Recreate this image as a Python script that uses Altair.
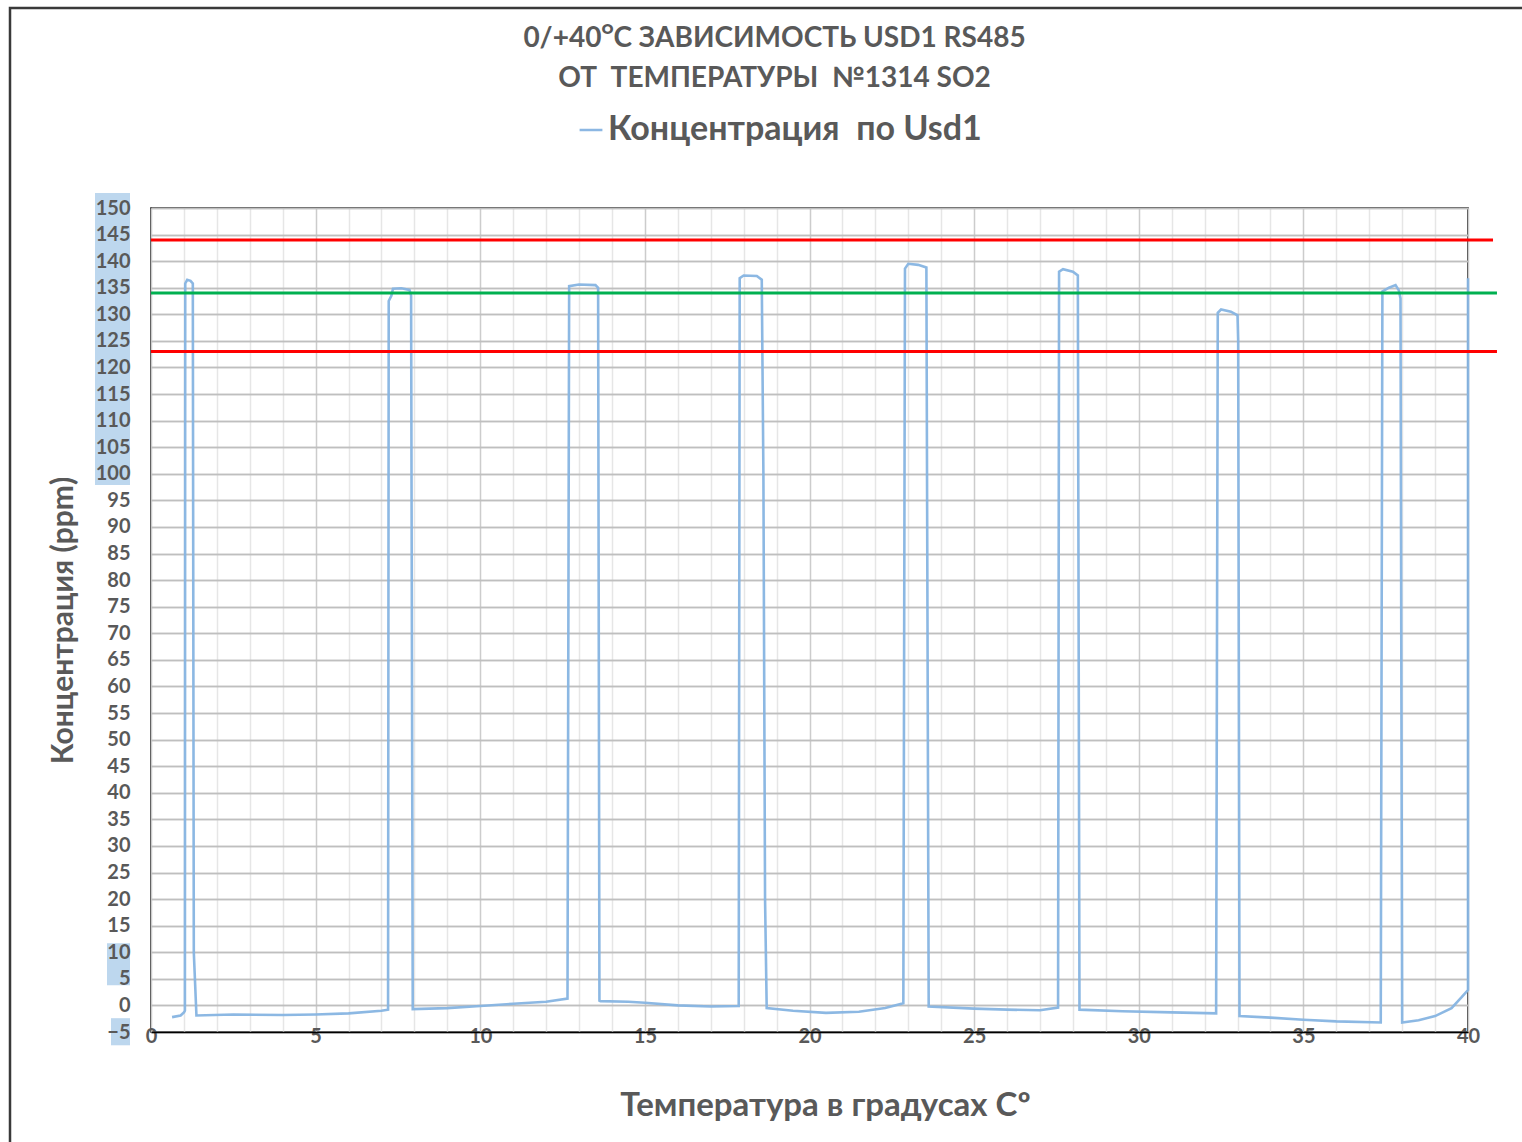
import altair as alt
import pandas as pd

# ---- data ----
temp = [0.64, 0.9, 1.0, 1.03,
        1.04, 1.1, 1.2, 1.27, 1.30, 1.38,
        2.5, 4.0, 5.0, 6.0, 7.0, 7.2,
        7.22, 7.3, 7.35, 7.6, 7.85, 7.9,
        7.95, 9.0, 10.0, 11.0, 12.0, 12.65,
        12.7, 13.0, 13.5, 13.58, 13.62,
        13.65, 14.5, 15.0, 16.0, 17.0, 17.85,
        17.88, 18.0, 18.4, 18.55, 18.6, 18.65, 18.7,
        19.5, 20.5, 21.5, 22.3, 22.85,
        22.9, 23.0, 23.3, 23.55, 23.62,
        25.0, 26.0, 27.0, 27.55,
        27.58, 27.7, 28.0, 28.15, 28.2,
        29.5, 31.0, 32.35,
        32.4, 32.5, 32.8, 33.0, 33.02, 33.06,
        34.0, 35.0, 36.0, 37.35,
        37.4, 37.6, 37.8, 37.9, 37.95, 38.0,
        38.5, 39.0, 39.5, 39.8, 40.0, 40.0]
conc = [-2.2, -1.9, -1.3, -1.0,
        135.8, 136.5, 136.3, 135.8, 10.0, -1.9,
        -1.7, -1.8, -1.7, -1.5, -1.0, -0.8,
        132.5, 133.5, 134.8, 134.9, 134.6, 133.5,
        -0.7, -0.5, -0.1, 0.3, 0.7, 1.3,
        135.3, 135.6, 135.5, 135.0, 0.9,
        0.8, 0.7, 0.5, 0.0, -0.2, -0.1,
        136.8, 137.3, 137.2, 136.5, 100.0, 20.0, -0.5,
        -1.0, -1.4, -1.2, -0.5, 0.4,
        138.6, 139.5, 139.3, 138.8, -0.2,
        -0.6, -0.8, -0.9, -0.4,
        138.0, 138.5, 138.0, 137.3, -0.8,
        -1.1, -1.3, -1.5,
        130.3, 130.9, 130.5, 129.8, 125.0, -2.0,
        -2.3, -2.7, -3.0, -3.2,
        134.3, 135.0, 135.5, 134.5, 133.0, -3.2,
        -2.8, -2.0, -0.5, 1.5, 2.9, 136.8]
series_name = "Концентрация \u00a0по Usd1"

limit_levels = [144, 134, 123]
limit_colors = ["#FF0000", "#00B050", "#FF0000"]
limit_start = [0, 0, 0]
limit_end = [40.76, 40.88, 40.88]

x_ticks = list(range(0, 41))
y_ticks = list(range(-5, 151, 5))

title_lines = ["0/+40ᴼС ЗАВИСИМОСТЬ USD1 RS485", "ОТ \u00a0ТЕМПЕРАТУРЫ \u00a0№1314 SO2"]
x_title = "Температура в градусах Сº"
y_title = "Концентрация (ppm)"

# highlight boxes behind some y labels (cell selection in the original)
hl_top = [152.8, 11.7, -2.4]
hl_bot = [97.9, 3.8, -7.5]

FONT = "Lato"
GREY = "#595959"
W, H = 1317, 824

df = pd.DataFrame({"t": temp, "c": conc, "i": list(range(len(temp))),
                   "series": [series_name] * len(temp)})
lim = pd.DataFrame({"lvl": limit_levels, "col": limit_colors,
                    "x0": limit_start, "x1": limit_end})
hl = pd.DataFrame({"top": hl_top, "bot": hl_bot,
                   "xa": [-56, -44, -40], "xb": [-21, -21, -21]})

xscale = alt.Scale(domain=[0, 40], nice=False, zero=False)
yscale = alt.Scale(domain=[-5, 150], nice=False, zero=False)

xaxis = alt.Axis(
    values=x_ticks, title=x_title,
    labelExpr="datum.value % 5 === 0 ? datum.label : ''",
    labelOverlap=False, labelFlush=False, labelBound=False,
    labelFont=FONT, labelFontSize=20, labelFontWeight="bold",
    labelColor=GREY, labelPadding=-6, ticks=False,
    grid=True,
    gridColor={"condition": {"test": "datum.value % 5 === 0", "value": "#CCCCCC"}, "value": "#E6E6E6"},
    gridWidth=1.5,
    domainColor="#000000", domainWidth=1.5,
    titleFont=FONT, titleFontSize=33, titleFontWeight="bold", titleColor=GREY,
    titleX=674, titleY=73, titleBaseline="middle", titleAlign="center",
)
# grid-only y axis (behind marks)
yaxis_grid = alt.Axis(
    values=y_ticks, title=None, labels=False, ticks=False, domain=False,
    grid=True, gridColor="#BFBFBF", gridWidth=1.5, orient="left",
)
# label y axis (in front of the highlight boxes)
yaxis_labels = alt.Axis(
    values=y_ticks, title=y_title, orient="left", zindex=1,
    grid=False, domain=False, ticks=False,
    labelFont=FONT, labelFontSize=20, labelFontWeight="bold", labelColor=GREY,
    labelPadding=21, labelOverlap=False, labelFlush=False, labelBound=False,
    titleFont=FONT, titleFontSize=30, titleFontWeight="bold", titleColor=GREY,
    titleX=-88, titleY=412, titleBaseline="middle", titleAlign="center",
)

line = alt.Chart(df).mark_line(strokeWidth=2.6, opacity=0.95).encode(
    x=alt.X("t:Q", scale=xscale, axis=xaxis),
    y=alt.Y("c:Q", scale=yscale, axis=yaxis_grid),
    order="i:Q",
    color=alt.Color("series:N", scale=alt.Scale(range=["#86B4E2"]),
                    legend=alt.Legend(
                        title=None, orient="none", legendX=423, legendY=-95,
                        symbolType="stroke", symbolSize=520, symbolStrokeWidth=2.5,
                        labelFont=FONT, labelFontSize=34, labelFontWeight="bold",
                        labelColor=GREY, labelLimit=700, padding=0, labelOffset=0)),
)

highlight = alt.Chart(hl).mark_rect(color="#BDD7EE").encode(
    y=alt.Y("top:Q", scale=yscale, axis=yaxis_labels),
    y2="bot:Q",
    x=alt.X("xa:Q", scale=None),
    x2="xb:Q",
)

limits = alt.Chart(lim).mark_rule(strokeWidth=3).encode(
    y=alt.Y("lvl:Q", scale=yscale, axis=yaxis_grid),
    x=alt.X("x0:Q", scale=xscale, axis=xaxis),
    x2="x1:Q",
    color=alt.Color("col:N", scale=None),
)

frame = alt.Chart(pd.DataFrame({"k": [0]})).mark_rect(
    fill=None, stroke="#3A3A3A", strokeWidth=2.5
).encode(
    x=alt.value(-141), x2=alt.value(1522 - 151 + 20),
    y=alt.value(-200), y2=alt.value(1142 - 208 + 20),
)

chart = alt.layer(frame, line, highlight, limits).resolve_scale(
    color="independent"
).resolve_axis(
    y="independent"
).properties(
    width=W, height=H,
    title=alt.TitleParams(text=title_lines, font=FONT, fontSize=28, fontWeight="bold",
                          color=GREY, anchor="middle", dx=-35, offset=-86, lineHeight=40),
    autosize=alt.AutoSizeParams(type="none"),
    padding={"left": 151, "top": 208, "right": 54, "bottom": 110},
    background="white",
).configure_view(stroke="#000000", strokeWidth=1.5)

chart.save("out.html", embed_options={"renderer": "svg", "actions": False})
